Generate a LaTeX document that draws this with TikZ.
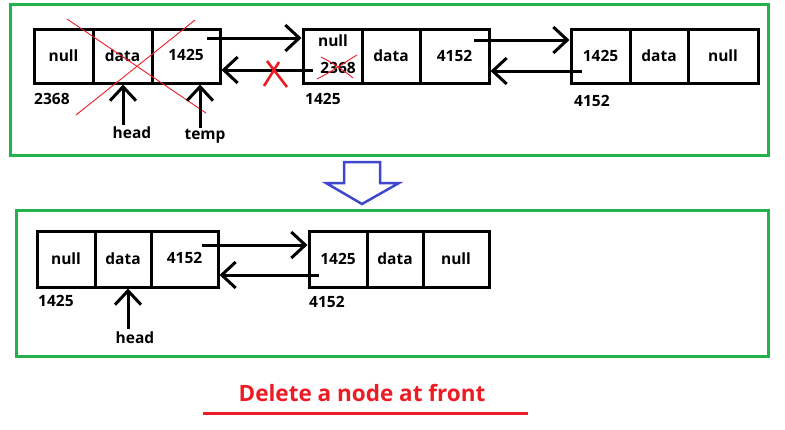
\documentclass[tikz,border=0pt]{standalone}
\usepackage{fontspec}
\setmainfont{Open Sans}
\usetikzlibrary{arrows.meta}
\definecolor{pgreen}{RGB}{34,177,76}
\definecolor{pred}{RGB}{237,28,36}
\definecolor{pblue}{RGB}{63,72,204}
\begin{document}
\begin{tikzpicture}[x=1pt,y=-1pt,
  txt/.style={font=\bfseries\fontsize{15.5}{18}\selectfont,inner sep=0pt},
  cell/.style={txt,draw=black,line width=3pt,minimum height=54pt},
  lbl/.style={txt,anchor=west},
  frame/.style={draw=pgreen,line width=3pt},
  arr/.style={line width=3pt,-{Straight Barb[length=14pt,width=26pt,line width=3pt]}},
  cross/.style={draw=pred,line width=0.9pt},
  bigx/.style={draw=pred,line width=2.6pt}]
\useasboundingbox (0,0) rectangle (785,429);
% frames
\draw[frame] (10,4) rectangle (768,155);
\draw[frame] (16,210) rectangle (768,356);
% ---- top list ----
\node[cell,minimum width=59pt] (a1) at (63.5,56) {null};
\node[cell,minimum width=59pt] (a2) at (122.5,56) {data};
\node[cell,minimum width=68pt] (a3) at (186,56) {\raisebox{2pt}{1425}};
\node[cell,minimum width=59pt] (b1) at (332.5,56) {};
\node[cell,minimum width=58pt] (b2) at (391,56) {data};
\node[cell,minimum width=69pt] (b3) at (454.5,56) {4152};
\node[cell,minimum width=59pt] (c1) at (600.5,56) {1425};
\node[cell,minimum width=58pt] (c2) at (659,56) {data};
\node[cell,minimum width=70pt] (c3) at (723,56) {null};
\node[txt] (b1n) at (333,41) {null};
\node[txt] (b1p) at (338,68) {2368};
\node[lbl] (la) at (34,99) {2368};
\node[lbl] (lb) at (305,99) {1425};
\node[lbl] (lc) at (574,101) {4152};
% crosses
\draw[cross] (67,19) -- (206,113);
\draw[cross] (195,20) -- (76,115);
\draw[cross] (317,79) .. controls (335,70) and (345,62) .. (357,55);
\draw[cross] (321,57) .. controls (335,64) and (343,70) .. (353,78);
% links top
\coordinate (f1) at (207,38);
\draw[arr] (f1) -- (f1 -| b1.west);
\coordinate (k1) at (313,70);
\draw[arr] (k1) -- (k1 -| a3.east);
\draw[bigx] (267,61) -- (287,87);
\draw[bigx] (279,62) -- (264,86);
\coordinate (f2) at (474,40);
\draw[arr] (f2) -- (f2 -| c1.west);
\coordinate (k2) at (582,71);
\draw[arr] (k2) -- (k2 -| b3.east);
% pointers top
\coordinate (hp) at (123,125);
\draw[arr] (hp) -- (hp |- a2.south);
\node[txt,anchor=base] (ht) at (132,138) {head};
\coordinate (tp) at (200,128);
\draw[arr] (tp) -- (tp |- a3.south);
\node[txt,anchor=base] (tt) at (205,139) {temp};
% blue arrow
\draw[pblue,line width=2.5pt,line join=miter] (344,162) -- (380,162) -- (380,183) -- (399,183) -- (362,204) -- (326,183) -- (344,183) -- cycle;
% ---- bottom list ----
\node[cell,minimum width=58pt,minimum height=56pt] (d1) at (66,259) {null};
\node[cell,minimum width=56pt,minimum height=56pt] (d2) at (123,259) {data};
\node[cell,minimum width=67pt,minimum height=56pt] (d3) at (184.5,259) {\raisebox{2pt}{4152}};
\node[cell,minimum width=58pt,minimum height=56pt] (e1) at (338,259) {1425};
\node[cell,minimum width=56pt,minimum height=56pt] (e2) at (395,259) {data};
\node[cell,minimum width=66pt,minimum height=56pt] (e3) at (456,259) {null};
\node[lbl] (ld) at (38,301) {1425};
\node[lbl] (le) at (309,302) {4152};
\coordinate (f3) at (202,245);
\draw[arr] (f3) -- (f3 -| e1.west);
\coordinate (k3) at (319,275);
\draw[arr] (k3) -- (k3 -| d3.east);
\coordinate (hq) at (128,329);
\draw[arr] (hq) -- (hq |- d2.south);
\node[txt,anchor=base] (hu) at (135,343) {head};
% title
\node[font=\bfseries\fontsize{22.5}{26}\selectfont,text=pred,inner sep=0pt] (title) at (362,393) {Delete a node at front};
\draw[pred,line width=3pt] (203,413) -- (528,413);
\end{tikzpicture}
\end{document}
